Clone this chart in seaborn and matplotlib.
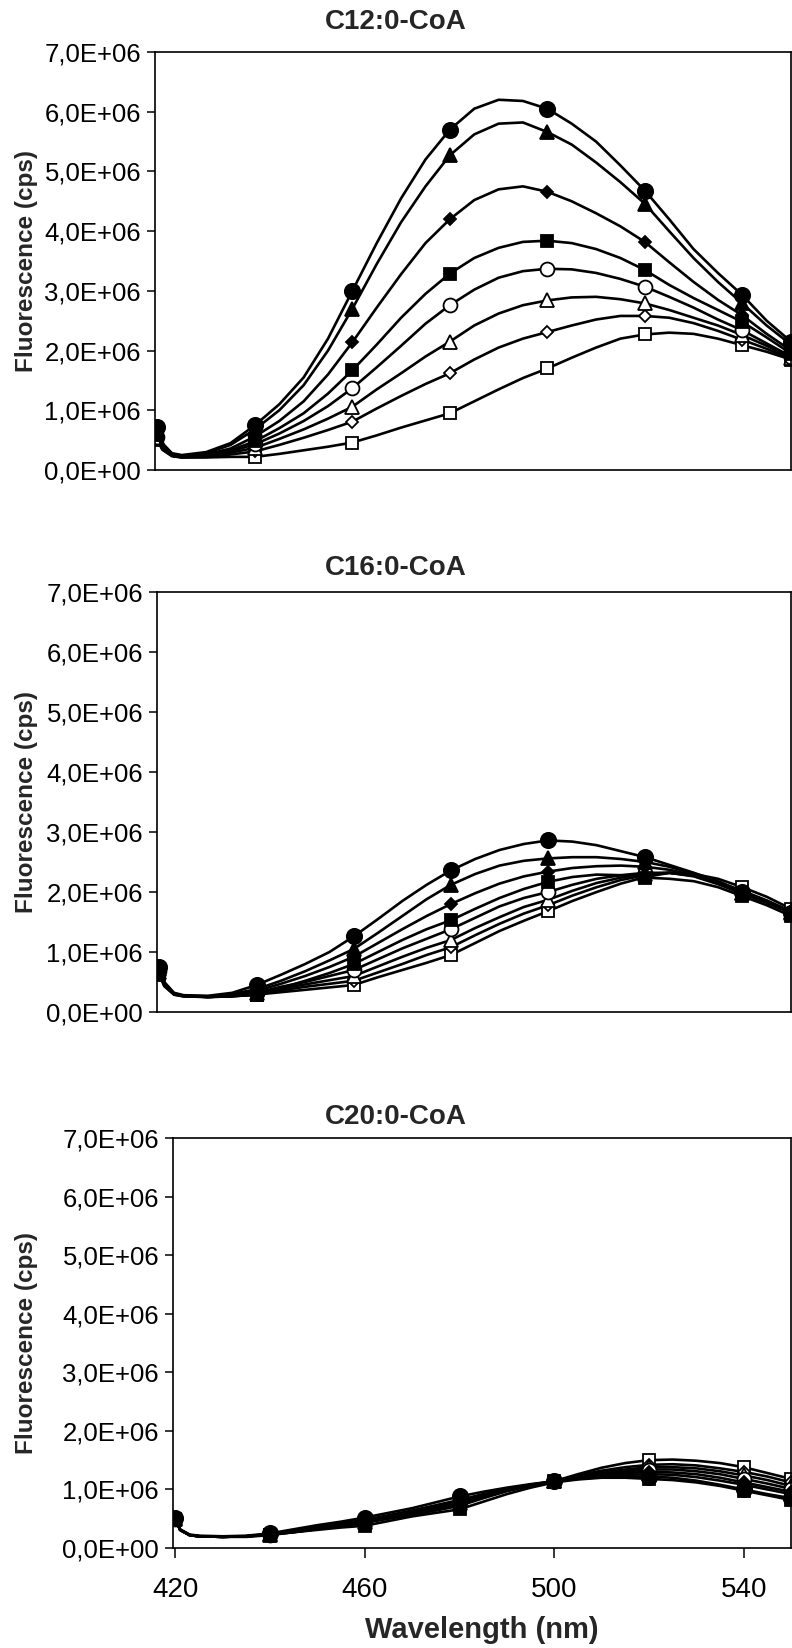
import numpy as np
import pandas as pd
import matplotlib
matplotlib.use("Agg")
import matplotlib.pyplot as plt
from matplotlib.ticker import FuncFormatter, MultipleLocator
import seaborn as sns

# wavelength grid (nm) and where the symbols sit
wavelength = [420, 421, 423, 425, 430, 435, 440, 445, 450, 455, 460, 465, 470,
              475, 480, 485, 490, 495, 500, 505, 510, 515, 520, 525, 530, 535,
              540, 545, 550]
marker_nm = [420, 440, 460, 480, 500, 520, 540, 550]

# fluorescence, units of 1E+06 cps
c12_fc = [0.72, 0.45, 0.28, 0.25, 0.30, 0.45, 0.75, 1.10, 1.55, 2.20, 3.00, 3.80, 4.55,
          5.20, 5.70, 6.05, 6.20, 6.18, 6.05, 5.80, 5.50, 5.10, 4.68, 4.20, 3.70, 3.30,
          2.93, 2.50, 2.15]
c12_ft = [0.65, 0.42, 0.27, 0.24, 0.28, 0.42, 0.68, 1.00, 1.42, 2.00, 2.70, 3.45, 4.15,
          4.75, 5.27, 5.62, 5.80, 5.82, 5.66, 5.45, 5.15, 4.82, 4.46, 4.00, 3.55, 3.15,
          2.79, 2.42, 2.10]
c12_fd = [0.60, 0.40, 0.26, 0.23, 0.26, 0.36, 0.56, 0.82, 1.15, 1.60, 2.14, 2.72, 3.28,
          3.80, 4.20, 4.52, 4.70, 4.75, 4.66, 4.50, 4.30, 4.08, 3.82, 3.48, 3.15, 2.85,
          2.59, 2.28, 2.00]
c12_fs = [0.58, 0.38, 0.25, 0.23, 0.25, 0.33, 0.48, 0.70, 0.95, 1.28, 1.67, 2.10, 2.55,
          2.95, 3.29, 3.55, 3.72, 3.82, 3.84, 3.80, 3.70, 3.55, 3.35, 3.10, 2.88, 2.68,
          2.48, 2.22, 1.95]
c12_oc = [0.55, 0.37, 0.25, 0.22, 0.24, 0.31, 0.43, 0.61, 0.82, 1.07, 1.37, 1.72, 2.08,
          2.45, 2.76, 3.02, 3.22, 3.33, 3.37, 3.36, 3.30, 3.20, 3.07, 2.90, 2.72, 2.52,
          2.34, 2.12, 1.90]
c12_ot = [0.55, 0.36, 0.24, 0.22, 0.23, 0.29, 0.37, 0.52, 0.68, 0.86, 1.06, 1.35, 1.62,
          1.90, 2.15, 2.42, 2.62, 2.76, 2.84, 2.89, 2.90, 2.86, 2.79, 2.68, 2.55, 2.42,
          2.26, 2.08, 1.88]
c12_od = [0.52, 0.35, 0.24, 0.21, 0.22, 0.26, 0.31, 0.42, 0.54, 0.67, 0.81, 1.03, 1.24,
          1.44, 1.62, 1.85, 2.05, 2.20, 2.31, 2.42, 2.52, 2.58, 2.58, 2.55, 2.46, 2.33,
          2.18, 2.03, 1.86]
c12_os = [0.50, 0.34, 0.23, 0.21, 0.21, 0.22, 0.22, 0.27, 0.33, 0.39, 0.46, 0.58, 0.71,
          0.83, 0.95, 1.15, 1.35, 1.54, 1.70, 1.88, 2.05, 2.20, 2.27, 2.30, 2.28, 2.20,
          2.09, 1.98, 1.85]

c16_fc = [0.75, 0.50, 0.32, 0.28, 0.27, 0.32, 0.45, 0.62, 0.80, 1.00, 1.26, 1.55, 1.85,
          2.12, 2.36, 2.55, 2.70, 2.80, 2.86, 2.84, 2.78, 2.68, 2.58, 2.45, 2.32, 2.18,
          2.00, 1.85, 1.65]
c16_ft = [0.72, 0.48, 0.31, 0.27, 0.26, 0.30, 0.38, 0.52, 0.68, 0.86, 1.05, 1.32, 1.60,
          1.88, 2.12, 2.30, 2.44, 2.52, 2.56, 2.58, 2.58, 2.55, 2.50, 2.42, 2.30, 2.16,
          1.99, 1.84, 1.65]
c16_fd = [0.70, 0.47, 0.30, 0.27, 0.26, 0.29, 0.35, 0.47, 0.60, 0.75, 0.92, 1.15, 1.38,
          1.60, 1.80, 1.98, 2.14, 2.26, 2.34, 2.40, 2.43, 2.44, 2.42, 2.37, 2.28, 2.15,
          1.98, 1.83, 1.65]
c16_fs = [0.68, 0.46, 0.30, 0.27, 0.25, 0.27, 0.28, 0.40, 0.52, 0.65, 0.80, 1.00, 1.20,
          1.38, 1.53, 1.72, 1.90, 2.05, 2.17, 2.25, 2.29, 2.28, 2.24, 2.22, 2.18, 2.08,
          1.93, 1.78, 1.60]
c16_oc = [0.68, 0.46, 0.30, 0.27, 0.25, 0.27, 0.32, 0.42, 0.50, 0.60, 0.70, 0.88, 1.06,
          1.22, 1.38, 1.57, 1.76, 1.90, 2.00, 2.12, 2.22, 2.28, 2.32, 2.32, 2.26, 2.13,
          1.97, 1.82, 1.65]
c16_ot = [0.66, 0.45, 0.30, 0.27, 0.25, 0.27, 0.31, 0.39, 0.46, 0.53, 0.60, 0.76, 0.92,
          1.07, 1.20, 1.40, 1.58, 1.75, 1.87, 2.02, 2.15, 2.24, 2.30, 2.32, 2.27, 2.15,
          1.99, 1.84, 1.66]
c16_od = [0.64, 0.44, 0.29, 0.26, 0.25, 0.26, 0.30, 0.36, 0.42, 0.47, 0.52, 0.66, 0.80,
          0.95, 1.08, 1.28, 1.47, 1.64, 1.78, 1.94, 2.08, 2.20, 2.28, 2.32, 2.28, 2.17,
          2.02, 1.86, 1.68]
c16_os = [0.62, 0.43, 0.29, 0.26, 0.25, 0.26, 0.29, 0.33, 0.37, 0.41, 0.45, 0.58, 0.70,
          0.82, 0.95, 1.15, 1.35, 1.52, 1.68, 1.85, 2.00, 2.14, 2.25, 2.32, 2.30, 2.22,
          2.08, 1.92, 1.72]

c20_fc = [0.52, 0.32, 0.23, 0.21, 0.20, 0.21, 0.25, 0.32, 0.39, 0.45, 0.52, 0.60, 0.68,
          0.78, 0.88, 0.96, 1.03, 1.09, 1.14, 1.18, 1.21, 1.22, 1.22, 1.20, 1.15, 1.08,
          1.00, 0.92, 0.85]
c20_ft = [0.51, 0.31, 0.22, 0.20, 0.19, 0.20, 0.24, 0.30, 0.36, 0.42, 0.48, 0.56, 0.64,
          0.73, 0.82, 0.92, 1.01, 1.08, 1.14, 1.19, 1.23, 1.25, 1.26, 1.25, 1.21, 1.15,
          1.08, 1.00, 0.92]
c20_fd = [0.50, 0.31, 0.22, 0.20, 0.19, 0.20, 0.24, 0.29, 0.35, 0.41, 0.47, 0.54, 0.62,
          0.71, 0.80, 0.90, 1.00, 1.08, 1.14, 1.20, 1.25, 1.28, 1.30, 1.29, 1.26, 1.20,
          1.12, 1.04, 0.96]
c20_fs = [0.50, 0.31, 0.22, 0.20, 0.19, 0.19, 0.22, 0.27, 0.31, 0.35, 0.38, 0.46, 0.54,
          0.60, 0.66, 0.79, 0.92, 1.03, 1.12, 1.17, 1.20, 1.20, 1.18, 1.16, 1.12, 1.06,
          0.98, 0.90, 0.82]
c20_oc = [0.50, 0.31, 0.22, 0.20, 0.19, 0.20, 0.23, 0.28, 0.34, 0.40, 0.46, 0.53, 0.61,
          0.69, 0.78, 0.89, 0.99, 1.07, 1.14, 1.21, 1.27, 1.31, 1.34, 1.34, 1.31, 1.26,
          1.18, 1.10, 1.01]
c20_ot = [0.50, 0.31, 0.22, 0.20, 0.19, 0.20, 0.23, 0.28, 0.33, 0.39, 0.45, 0.52, 0.60,
          0.68, 0.76, 0.88, 0.99, 1.07, 1.14, 1.22, 1.29, 1.34, 1.38, 1.38, 1.36, 1.31,
          1.24, 1.16, 1.06]
c20_od = [0.50, 0.31, 0.22, 0.20, 0.19, 0.20, 0.23, 0.27, 0.33, 0.38, 0.44, 0.51, 0.58,
          0.66, 0.74, 0.86, 0.98, 1.07, 1.14, 1.24, 1.32, 1.38, 1.42, 1.43, 1.41, 1.36,
          1.30, 1.22, 1.12]
c20_os = [0.50, 0.31, 0.22, 0.20, 0.19, 0.20, 0.23, 0.27, 0.32, 0.37, 0.43, 0.50, 0.57,
          0.64, 0.72, 0.85, 0.97, 1.06, 1.14, 1.26, 1.37, 1.45, 1.50, 1.51, 1.49, 1.45,
          1.38, 1.28, 1.18]

titles = ["C12:0-CoA", "C16:0-CoA", "C20:0-CoA"]
panels = [
    [c12_fc, c12_ft, c12_fd, c12_fs, c12_oc, c12_ot, c12_od, c12_os],
    [c16_fc, c16_ft, c16_fd, c16_fs, c16_oc, c16_ot, c16_od, c16_os],
    [c20_fc, c20_ft, c20_fd, c20_fs, c20_oc, c20_ot, c20_od, c20_os],
]

# symbol, size, filled
symbols = [("o", 11.0, True), ("^", 10.0, True), ("D", 6.5, True), ("s", 9.0, True),
           ("o", 10.0, False), ("^", 9.5, False), ("D", 6.5, False), ("s", 9.0, False)]

sns.set_style("ticks")
plt.rcParams["font.family"] = ["Liberation Sans", "DejaVu Sans"]

W, H = 792, 1648
fig = plt.figure(figsize=(W / 100, H / 100), dpi=100)

# axes boxes in pixels: left, top, bottom
boxes = [(155, 52, 470), (157, 592, 1012), (173, 1138, 1548)]
title_y = [22, 568, 1117]
right_px = 791

mark_idx = [wavelength.index(w) for w in marker_nm]

def sci(v, pos):
    s = f"{v / 1e6:.1f}".replace(".", ",")
    return s + ("E+06" if v != 0 else "E+00")

for p, (series, title) in enumerate(zip(panels, titles)):
    left, top, bottom = boxes[p]
    ax = fig.add_axes([left / W, 1 - bottom / H, (right_px - left) / W, (bottom - top) / H])
    for k in range(len(series) - 1, -1, -1):
        m, ms, filled = symbols[k]
        df = pd.DataFrame({"nm": wavelength, "cps": np.array(series[k]) * 1e6})
        sns.lineplot(data=df, x="nm", y="cps", ax=ax, color="black", lw=1.9,
                     marker=m, markersize=ms, markevery=mark_idx,
                     markerfacecolor="black" if filled else "white",
                     markeredgecolor="black", markeredgewidth=1.3,
                     errorbar=None, legend=False)
    ax.set_xlim(419.5, 550)
    ax.set_ylim(0, 7e6)
    ax.yaxis.set_major_locator(MultipleLocator(1e6))
    ax.yaxis.set_major_formatter(FuncFormatter(sci))
    for sp in ax.spines.values():
        sp.set_color("black")
        sp.set_linewidth(1.2)
    ax.tick_params(axis="y", direction="out", length=6, width=1.1, pad=4,
                   labelsize=18.5, colors="black")
    ax.set_ylabel("Fluorescence (cps)", fontsize=17.5, fontweight="bold", va="center")
    ax.yaxis.set_label_coords((27 - left) / (right_px - left), 0.5)
    if p < 2:
        ax.set_xlabel("")
        ax.tick_params(axis="x", length=0, labelbottom=False)
    else:
        ax.set_xticks([420, 460, 500, 540])
        ax.tick_params(axis="x", direction="out", length=7, width=1.1, pad=14,
                       labelsize=20, colors="black")
        ax.set_xlabel("Wavelength (nm)", fontsize=21, fontweight="bold", va="center")
        ax.xaxis.set_label_coords(0.5, (bottom - 1630) / (bottom - top))
    fig.text(0.5, 1 - title_y[p] / H, title, ha="center", va="center",
             fontsize=20, fontweight="bold")

fig.savefig("out.png", dpi=100)
